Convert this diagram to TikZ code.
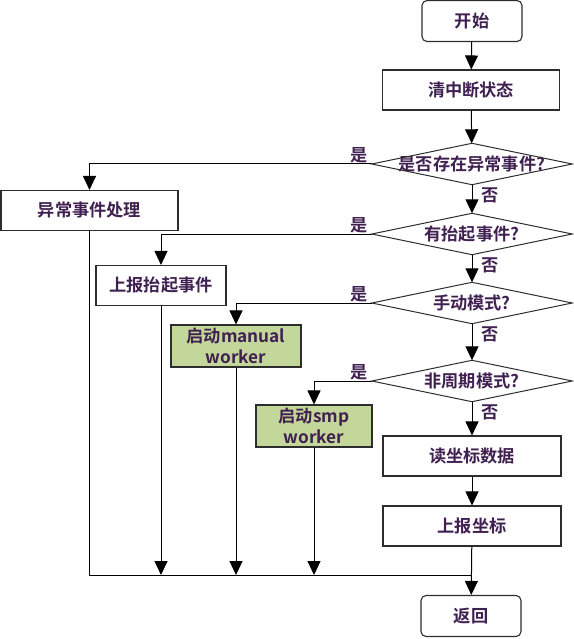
\documentclass[tikz,border=0pt]{standalone}
\usepackage{fontspec}
\setmainfont{Noto Sans CJK SC}[BoldFont={Noto Sans CJK SC Bold}]
\usetikzlibrary{arrows.meta}
\definecolor{txtpurple}{RGB}{63,32,80}
\definecolor{workergreen}{RGB}{196,215,155}
\definecolor{edgegray}{RGB}{45,45,45}
\tikzset{
    flow/.style={draw=black, line width=1pt, -{Triangle[width=13pt,length=14pt]}},
    wire/.style={draw=black, line width=1pt},
    box/.style={draw=edgegray, line width=1.1pt, inner sep=0pt, align=center},
    endbox/.style={box, rounded corners=5pt, minimum width=100pt, minimum height=41pt},
    test/.style={inner sep=0pt, minimum width=200pt, minimum height=41pt},
    lbl/.style={inner sep=1pt}
}
\begin{document}
\begin{tikzpicture}[x=1pt, y=-1pt,
    every node/.style={font=\bfseries\fontsize{17.2}{21}\selectfont, text=txtpurple}]
    \useasboundingbox (0,0) rectangle (573,639);

    % Main column of the flow chart
    \node[endbox] (start) at (472,21) {开始};
    \node[box, minimum width=177pt, minimum height=40pt] (clear) at (471,90) {清中断状态};
    \node[test] (d1) at (472,164) {是否存在异常事件?};
    \node[test] (d2) at (472,234) {有抬起事件?};
    \node[test] (d3) at (472,303) {手动模式?};
    \node[test] (d4) at (472,381) {非周期模式?};
    \node[box, minimum width=178pt, minimum height=40pt] (read) at (472,456) {读坐标数据};
    \node[box, minimum width=178pt, minimum height=40pt] (report) at (472,526) {上报坐标};
    \node[endbox] (ret) at (471,616) {返回};

    % Branches on the left
    \node[box, minimum width=177pt, minimum height=40pt] (exc) at (89.5,210.5) {异常事件处理};
    \node[box, minimum width=130pt, minimum height=40pt] (up) at (161,285.5) {上报抬起事件};
    \node[box, fill=workergreen, minimum width=130pt, minimum height=42pt] (manual) at (236,346) {启动manual\\worker};
    \node[box, fill=workergreen, minimum width=116pt, minimum height=42pt] (smp) at (314,426) {启动smp\\worker};

    % Diamond outlines of the tests
    \foreach \d in {d1,d2,d3,d4}
        \draw[draw=edgegray, line width=1pt] (\d.west) -- (\d.north) -- (\d.east) -- (\d.south) -- cycle;

    % Yes / no labels
    \foreach \d in {1,2,3,4} {
        \node[lbl, anchor=south east] (yes\d) at ([xshift=-3pt]d\d.west) {是};
        \node[lbl, anchor=north west] (no\d) at ([xshift=8pt,yshift=-2pt]d\d.south) {否};
    }

    % Arrows down the main column
    \draw[flow] (start) -- (clear);
    \draw[flow] (clear) -- (d1);
    \draw[flow] (d1) -- (d2);
    \draw[flow] (d2) -- (d3);
    \draw[flow] (d3) -- (d4);
    \draw[flow] (d4) -- (read);
    \draw[flow] (read) -- (report);
    \draw[flow] (report) -- (ret);

    % Arrows out to the branches
    \draw[flow] (d1.west) -| (exc.north);
    \draw[flow] (d2.west) -| (up.north);
    \draw[flow] (d3.west) -| (manual.north);
    \draw[flow] (d4.west) -| (smp.north);

    % Branches join again above the end
    \coordinate (mrg) at (472,575);
    \draw[wire] (exc.south) |- (mrg);
    \draw[flow] (up.south) -- (up.south |- mrg);
    \draw[flow] (manual.south) -- (manual.south |- mrg);
    \draw[flow] (smp.south) -- (smp.south |- mrg);
\end{tikzpicture}
\end{document}
